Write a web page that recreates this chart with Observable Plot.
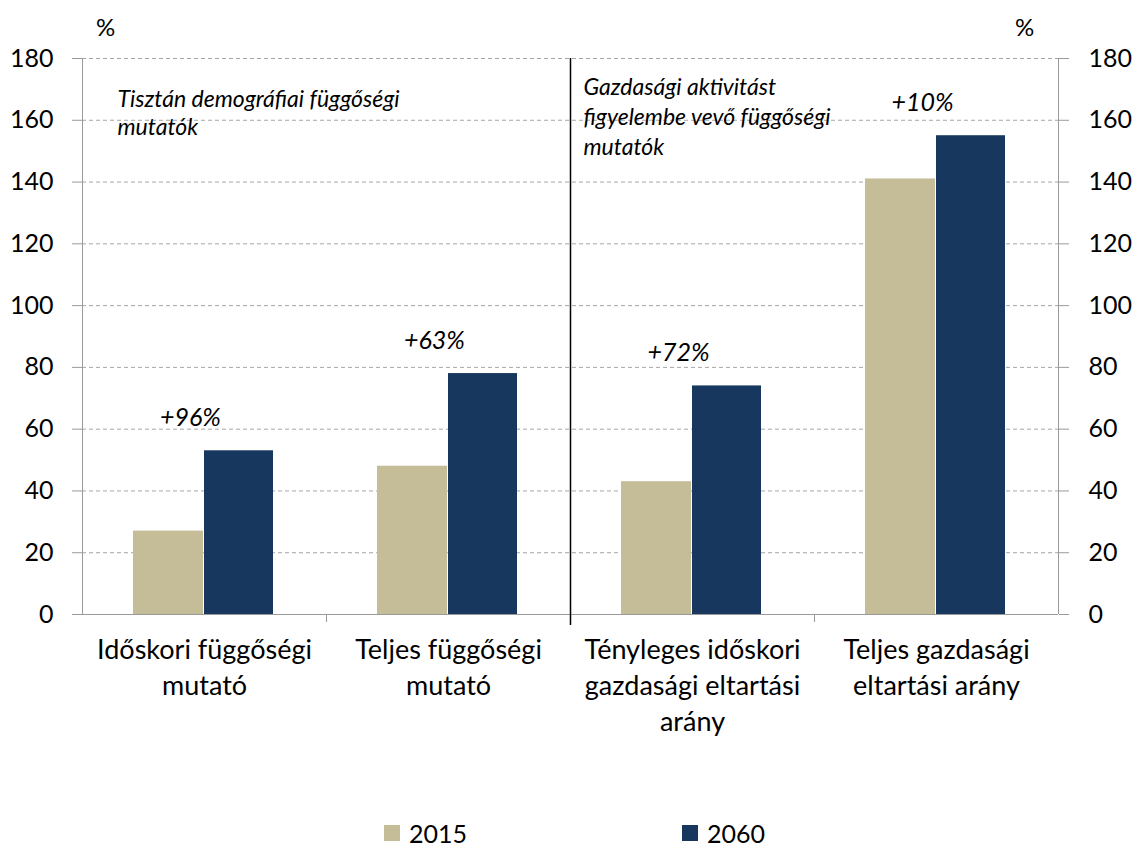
<!DOCTYPE html>
<html><head><meta charset="utf-8">
<script src="https://cdn.jsdelivr.net/npm/d3@7"></script>
<script src="https://cdn.jsdelivr.net/npm/@observablehq/plot@0.6"></script>
<style>
body{margin:0;background:#fff;font-family:Lato,"Open Sans",sans-serif;}
#legend{position:relative;height:57px;width:1136px;font-size:25px;color:#000;}
.item{position:absolute;top:28px;display:flex;align-items:center;gap:9px;}
.sw{width:16px;height:16px;display:inline-block;}
</style>
</head><body>
<div id="chart"></div>
<div id="legend"></div>
<script>
const categories = [
  "Időskori függőségi\nmutató",
  "Teljes függőségi\nmutató",
  "Tényleges időskori\ngazdasági eltartási\narány",
  "Teljes gazdasági\neltartási arány"
];
const years = ["2015", "2060"];
const values2015 = [27, 48, 43, 141];
const values2060 = [53, 78, 74, 155];
const changeLabels = ["+96%", "+63%", "+72%", "+10%"];
const yTicks = [0, 20, 40, 60, 80, 100, 120, 140, 160, 180];
const noteLeft = "Tisztán demográfiai függőségi\nmutatók";
const noteRight = "Gazdasági aktivitást\nfigyelembe vevő függőségi\nmutatók";
const unitLabel = "%";
const colors = ["#C4BD97", "#17375E"];

const rows = categories.map((c, i) => ({cat: c, v2015: values2015[i], v2060: values2060[i], change: changeLabels[i]}));

const gray = "#9A9A9A";
const chart = Plot.plot({
  width: 1136,
  height: 790,
  marginTop: 58,
  marginBottom: 176,
  marginLeft: 82,
  marginRight: 78,
  style: {fontFamily: "Lato, 'Open Sans', sans-serif", color: "#000", background: "#fff"},
  x: {type: "band", domain: categories, padding: 0, axis: null},
  y: {domain: [0, 180], axis: null},
  marks: [
    Plot.gridY(yTicks.filter(d => d > 0), {stroke: "#A6A6A6", strokeOpacity: 1, strokeDasharray: "4,3"}),
    Plot.barY(rows, {x: "cat", y: "v2015", fill: colors[0], insetLeft: 51, insetRight: 123}),
    Plot.barY(rows, {x: "cat", y: "v2060", fill: colors[1], insetLeft: 122, insetRight: 53}),
    Plot.ruleY([0], {stroke: gray}),
    Plot.ruleX([categories[0]], {x: d => d, dx: -122, stroke: gray}),
    Plot.ruleX([categories[3]], {x: d => d, dx: 122, stroke: gray}),
    Plot.ruleX([categories[1], categories[3]], {x: d => d, dx: -122, y1: 0, y2: -2.6, stroke: gray}),
    Plot.ruleX([categories[2]], {x: d => d, dx: -122, y1: -3.6, y2: 180, stroke: "#000", strokeWidth: 1.5}),
    Plot.axisY({anchor: "left", ticks: yTicks, tickSize: 10, tickPadding: 19, fontSize: 25, stroke: gray, fill: "#000", label: null}),
    Plot.axisY({anchor: "right", ticks: yTicks, tickSize: 10, tickPadding: 20, fontSize: 25, stroke: gray, fill: "#000", label: null, textAnchor: "start"}),
    Plot.axisX({anchor: "bottom", tickSize: 0, tickPadding: 19, fontSize: 27, lineHeight: 1.33, label: null}),
    Plot.text(rows, {x: "cat", y: "v2060", text: "change", dx: -14, dy: -33, fontSize: 25, fontStyle: "italic", fill: "#000"}),
    Plot.text([noteLeft], {x: () => categories[0], y: () => 170.5, text: d => d, dx: -87, textAnchor: "start", lineAnchor: "top", fontSize: 23, fontStyle: "italic", lineHeight: 1.2, fill: "#000"}),
    Plot.text([noteRight], {x: () => categories[2], y: () => 175, text: d => d, dx: -109, textAnchor: "start", lineAnchor: "top", fontSize: 23, fontStyle: "italic", lineHeight: 1.3, fill: "#000"}),
    Plot.text([unitLabel], {frameAnchor: "top-left", text: d => d, textAnchor: "middle", lineAnchor: "middle", dx: 23, dy: -30, fontSize: 24, fill: "#000"}),
    Plot.text([unitLabel], {frameAnchor: "top-right", text: d => d, textAnchor: "middle", lineAnchor: "middle", dx: -34, dy: -30, fontSize: 24, fill: "#000"})
  ]
});
document.getElementById("chart").appendChild(chart);

const legend = document.getElementById("legend");
const lefts = [384, 682];
years.forEach((y, i) => {
  const it = document.createElement("div");
  it.className = "item";
  it.style.left = lefts[i] + "px";
  it.innerHTML = `<span class="sw" style="background:${colors[i]}"></span><span>${y}</span>`;
  legend.appendChild(it);
});
</script>
</body></html>
